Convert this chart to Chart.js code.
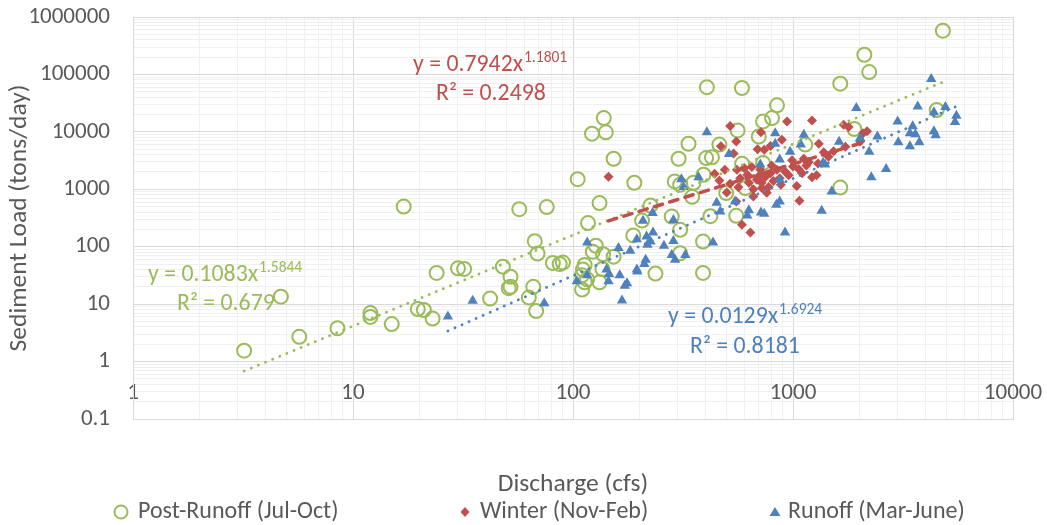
<!DOCTYPE html>
<html>
<head>
<meta charset="utf-8">
<script src="https://cdn.jsdelivr.net/npm/chart.js@4.4.1/dist/chart.umd.min.js"></script>
<style>
    html, body { margin: 0; padding: 0; background: #ffffff; }
    #wrap { width: 1047px; height: 525px; }
</style>
</head>
<body>
<div id="wrap"><canvas id="sedimentChart"></canvas></div>
<script>
// Post-Runoff (Jul-Oct): discharge (cfs) / sediment load (tons/day)
const postDischarge = [3.2, 4.7, 5.7, 8.5, 12, 12, 15, 17, 19.7, 21, 23, 24, 30, 32, 42, 48, 52, 52, 51, 57,
    67, 69, 66, 63, 68, 76, 81, 87, 90, 105, 110, 111, 116, 117, 127, 123, 132, 132, 136, 137,
    153, 113, 110, 113, 188, 190, 206, 237, 281, 307, 307, 390, 138, 122, 141, 153, 335, 302, 290, 353,
    392, 348, 225, 421, 390, 307, 403, 428, 463, 846, 803, 731, 560, 699, 587, 731, 1137, 1900, 1640, 497,
    552, 607, 406, 586, 1640, 2110, 2220, 4800, 4500];
const postLoad = [1.55, 13.5, 2.7, 3.8, 7, 6, 4.5, 500, 8.2, 7.9, 5.6, 35, 42, 41, 12.5, 45, 30, 20, 19, 450,
    125, 76, 20, 13, 7.6, 490, 52, 50, 53, 1500, 18, 40, 27, 258, 104, 82, 575, 24, 41, 74,
    67, 48, 32, 24, 157, 1300, 285, 34, 335, 197, 1200, 35, 17400, 9300, 9800, 3400, 6200, 3400, 1370, 1300,
    1790, 740, 520, 340, 123, 77, 3500, 3600, 6000, 29000, 17400, 15200, 10600, 8300, 2780, 2860, 6000, 11200, 1070, 860,
    345, 1050, 60000, 58000, 69000, 220000, 110000, 577000, 24000];

// Winter (Nov-Feb)
const winterDischarge = [145, 440, 463, 470, 500, 518, 940, 1220, 715, 552, 890, 1310, 1700, 1790, 2170, 790, 690, 740, 537, 990,
    1180, 1120, 1060, 1380, 1530, 1730, 2020, 2080, 600, 556, 650, 490, 518, 565, 630, 685, 722, 790, 845, 920,
    1220, 1280, 1040, 760, 660, 552, 1070, 586, 640, 815, 870, 955, 700, 575, 748, 775, 660, 620, 710, 800,
    1000, 1150, 1300, 1450, 880, 1100, 720];
const winterLoad = [1650, 1860, 1420, 5600, 880, 12700, 15200, 15800, 9800, 6800, 7300, 6200, 13300, 12200, 10200, 5700, 5000, 4900, 4200, 3200,
    3000, 3400, 2250, 4400, 4600, 5500, 6800, 9500, 2340, 2190, 2450, 2190, 1250, 1090, 1300, 1460, 1050, 1900, 2190, 2050,
    1620, 1750, 1140, 870, 1000, 613, 630, 241, 177, 1400, 1560, 1750, 1700, 1560, 1630, 1100, 750, 1800, 2200, 2600,
    2500, 2600, 2800, 3700, 1200, 1900, 1300];

// Runoff (Mar-June)
const runoffDischarge = [27, 35, 74, 104, 116, 116, 142, 146, 145, 161, 163, 167, 172, 176, 182, 195, 195, 208, 216, 225,
    214, 211, 230, 259, 286, 286, 281, 291, 324, 231, 196, 218, 406, 311, 318, 372, 450, 433, 512, 830,
    1120, 830, 970, 870, 710, 467, 545, 870, 870, 840, 715, 740, 630, 620, 920, 1350, 1500, 1085, 1620, 1400,
    1370, 1940, 2020, 2220, 2270, 2650, 2420, 4250, 3690, 4930, 4370, 5530, 5450, 2990, 3500, 3400, 3600, 3750, 3400, 3010,
    4370, 4450];
const runoffLoad = [6.1, 11.4, 10.4, 25, 118, 32, 40, 33, 25, 95, 32, 11.6, 21, 23, 85, 40, 135, 283, 150, 123,
    59, 50, 386, 104, 293, 126, 72, 59, 72, 177, 37, 108, 9800, 1500, 1100, 1620, 580, 118, 4100, 9500,
    8900, 6200, 4500, 3300, 2700, 410, 613, 1460, 613, 540, 395, 375, 430, 350, 177, 425, 915, 6000, 6700, 2700,
    2900, 26000, 7800, 4500, 1620, 2250, 8300, 83000, 27700, 27000, 22000, 19000, 14800, 15200, 12500, 9500, 9100, 6600, 5600, 6600,
    10200, 8700];

// power trendlines as printed on the chart: [coefficient, exponent, R²]
const postFit = [0.1083, 1.5844, '0.679'];
const winterFit = [0.7942, 1.1801, '0.2498'];
const runoffFit = [0.0129, 1.6924, '0.8181'];

const seriesNames = ['Post-Runoff (Jul-Oct)', 'Winter (Nov-Feb)', 'Runoff (Mar-June)'];
const xTickLabels = ['1', '10', '100', '1000', '10000'];
const yTickLabels = ['0.1', '1', '10', '100', '1000', '10000', '100000', '1000000'];

const GREEN = '#9BBB59', RED = '#C0504D', BLUE = '#4F81BD', GREY = '#595959';
const FONT = "Calibri, Carlito, Lato, sans-serif";

function toPoints(xs, ys) {
    return xs.map((x, i) => ({ x: x, y: ys[i] }));
}

// a power law is straight on log-log axes, so the two ends are enough
function trendPoints(xs, fit) {
    const lo = Math.min(...xs), hi = Math.max(...xs);
    return [lo, hi].map(x => ({ x: x, y: fit[0] * Math.pow(x, fit[1]) }));
}

function isDecade(v) {
    const l = Math.log10(v);
    return Math.abs(l - Math.round(l)) < 1e-6;
}

// ticks at 1..9 of every decade so the minor gridlines show like Excel
function decadeTicks(labels) {
    const decades = labels.map(Number);
    const ticks = [];
    decades.forEach((d, i) => {
        if (i === decades.length - 1) { ticks.push({ value: d }); return; }
        for (let k = 1; k < 10; k++) ticks.push({ value: d * k, major: k === 1 });
    });
    return ticks;
}

function labelFor(labels) {
    return function(value) {
        if (!isDecade(value)) return '';
        const idx = labels.map(Number).findIndex(d => Math.abs(d - value) / d < 1e-6);
        return idx >= 0 ? labels[idx] : '';
    };
}

function gridColor(ctx) {
    if (!ctx.tick) return '#D9D9D9';
    return isDecade(ctx.tick.value) ? '#D9D9D9' : '#F0F0F0';
}

// trendline equations and the legend row, drawn after the chart
const overlayPlugin = {
    id: 'overlay',
    afterDraw(chart) {
        const ctx = chart.ctx;
        ctx.save();
        ctx.textBaseline = 'middle';
        ctx.textAlign = 'left';

        const eqs = [
            { fit: winterFit, color: RED, x1: 413, y1: 65, x2: 436, y2: 94.5 },
            { fit: postFit, color: GREEN, x1: 148, y1: 275, x2: 177, y2: 304 },
            { fit: runoffFit, color: BLUE, x1: 668, y1: 317, x2: 690, y2: 347 }
        ];
        eqs.forEach(eq => {
            ctx.fillStyle = eq.color;
            ctx.font = '23.8px ' + FONT;
            const main = 'y = ' + eq.fit[0] + 'x';
            ctx.fillText(main, eq.x1, eq.y1);
            const w = ctx.measureText(main).width;
            ctx.fillText('R\u00B2 = ' + eq.fit[2], eq.x2, eq.y2);
            ctx.font = '15.5px ' + FONT;
            ctx.fillText(String(eq.fit[1]), eq.x1 + w + 1, eq.y1 - 7);
        });

        // legend
        const items = [
            { marker: 'circle', color: GREEN, mx: 121, tx: 138 },
            { marker: 'diamond', color: RED, mx: 465, tx: 480 },
            { marker: 'triangle', color: BLUE, mx: 775, tx: 788 }
        ];
        const ly = 512;
        items.forEach((it, i) => {
            ctx.fillStyle = it.color;
            ctx.strokeStyle = it.color;
            ctx.lineWidth = 2;
            ctx.beginPath();
            if (it.marker === 'circle') {
                ctx.arc(it.mx, ly, 6.5, 0, Math.PI * 2);
                ctx.stroke();
            } else if (it.marker === 'diamond') {
                ctx.moveTo(it.mx, ly - 5);
                ctx.lineTo(it.mx + 4.5, ly);
                ctx.lineTo(it.mx, ly + 5);
                ctx.lineTo(it.mx - 4.5, ly);
                ctx.closePath();
                ctx.fill();
            } else {
                ctx.moveTo(it.mx, ly - 5);
                ctx.lineTo(it.mx + 5.5, ly + 4);
                ctx.lineTo(it.mx - 5.5, ly + 4);
                ctx.closePath();
                ctx.fill();
            }
            ctx.fillStyle = GREY;
            ctx.font = '24px ' + FONT;
            ctx.fillText(seriesNames[i], it.tx, ly);
        });
        ctx.restore();
    }
};

document.addEventListener('DOMContentLoaded', function() {
    const ctx = document.getElementById('sedimentChart').getContext('2d');
    new Chart(ctx, {
        type: 'scatter',
        data: {
            datasets: [
                {
                    label: seriesNames[0],
                    data: toPoints(postDischarge, postLoad),
                    pointStyle: 'circle',
                    pointRadius: 7,
                    pointBorderWidth: 2,
                    borderColor: GREEN,
                    backgroundColor: 'rgba(0,0,0,0)',
                    order: 6
                },
                {
                    label: seriesNames[1],
                    data: toPoints(winterDischarge, winterLoad),
                    pointStyle: 'rectRot',
                    pointRadius: 5,
                    pointBorderWidth: 0,
                    borderColor: RED,
                    backgroundColor: RED,
                    order: 5
                },
                {
                    label: seriesNames[2],
                    data: toPoints(runoffDischarge, runoffLoad),
                    pointStyle: 'triangle',
                    pointRadius: 6,
                    pointBorderWidth: 0,
                    borderColor: BLUE,
                    backgroundColor: BLUE,
                    order: 4
                },
                {
                    label: 'Power (Post-Runoff)',
                    type: 'line',
                    data: trendPoints(postDischarge, postFit),
                    borderColor: GREEN,
                    borderWidth: 2.8,
                    borderDash: [0.1, 7.6],
                    borderCapStyle: 'round',
                    pointRadius: 0,
                    fill: false,
                    order: 3
                },
                {
                    label: 'Power (Winter)',
                    type: 'line',
                    data: trendPoints(winterDischarge, winterFit),
                    borderColor: RED,
                    borderWidth: 3.5,
                    borderDash: [8.5, 7.5],
                    borderCapStyle: 'round',
                    pointRadius: 0,
                    fill: false,
                    order: 2
                },
                {
                    label: 'Power (Runoff)',
                    type: 'line',
                    data: trendPoints(runoffDischarge, runoffFit),
                    borderColor: BLUE,
                    borderWidth: 2.8,
                    borderDash: [0.1, 7.6],
                    borderCapStyle: 'round',
                    pointRadius: 0,
                    fill: false,
                    order: 1
                }
            ]
        },
        options: {
            responsive: true,
            maintainAspectRatio: false,
            animation: false,
            layout: { padding: { top: 17, right: 34, bottom: 25, left: 0 } },
            plugins: {
                legend: { display: false },
                tooltip: { enabled: false }
            },
            scales: {
                x: {
                    type: 'logarithmic',
                    position: 'bottom',
                    min: 1,
                    max: 10000,
                    afterBuildTicks: scale => { scale.ticks = decadeTicks(xTickLabels); },
                    afterFit: scale => {
                        scale.height = 81;
                        scale.paddingLeft = 0;
                        scale.paddingRight = 0;
                    },
                    grid: { color: gridColor, drawTicks: false, lineWidth: 1 },
                    border: { color: '#D9D9D9' },
                    ticks: {
                        autoSkip: false,
                        maxRotation: 0,
                        mirror: true,   // labels sit above the bottom edge, between 0.1 and 1
                        padding: 11.7,
                        color: GREY,
                        font: { family: FONT, size: 23 },
                        callback: labelFor(xTickLabels)
                    },
                    title: {
                        display: true,
                        text: 'Discharge (cfs)',
                        color: GREY,
                        font: { family: FONT, size: 25.5 },
                        padding: { top: 0, bottom: 0 }
                    }
                },
                y: {
                    type: 'logarithmic',
                    min: 0.1,
                    max: 1000000,
                    afterBuildTicks: scale => { scale.ticks = decadeTicks(yTickLabels); },
                    afterFit: scale => {
                        scale.width = 133;
                        scale.paddingTop = 0;
                        scale.paddingBottom = 0;
                    },
                    grid: { color: gridColor, drawTicks: false, lineWidth: 1 },
                    border: { color: '#D9D9D9' },
                    ticks: {
                        autoSkip: false,
                        padding: 23,
                        color: GREY,
                        font: { family: FONT, size: 23 },
                        callback: labelFor(yTickLabels)
                    },
                    title: {
                        display: true,
                        text: 'Sediment Load (tons/day)',
                        color: GREY,
                        font: { family: FONT, size: 25.5 },
                        padding: { top: 4.5, bottom: 0 }
                    }
                }
            }
        },
        plugins: [overlayPlugin]
    });
});
</script>
</body>
</html>
